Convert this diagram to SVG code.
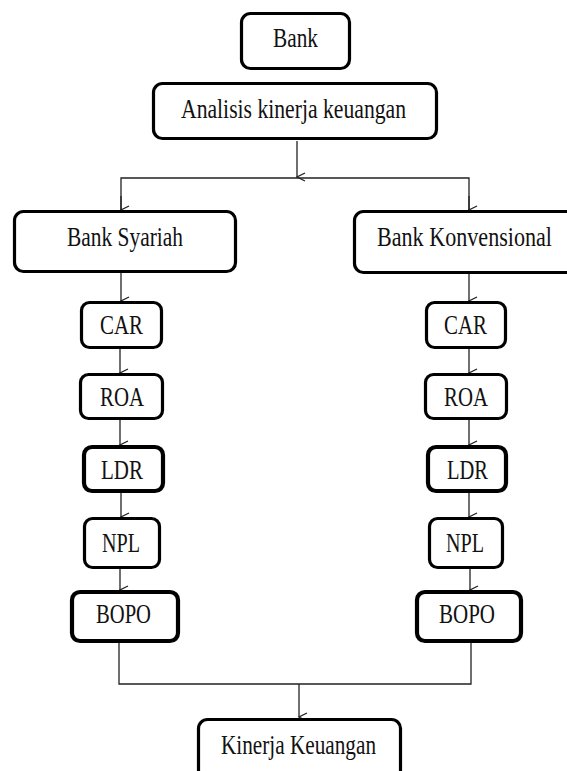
<svg xmlns="http://www.w3.org/2000/svg" width="567" height="771" viewBox="0 0 567 771">
<defs>
<style>
.box{fill:#fff;stroke:#000;stroke-width:3.2}
.thick{stroke-width:4.2}
.lbl{font-family:'Liberation Serif','Times New Roman',Times,serif;font-size:27px;fill:#111}
.ln{fill:none;stroke:#222;stroke-width:1.3}
</style>
<marker id="ah" markerWidth="10" markerHeight="10" refX="5" refY="9" orient="auto-start-reverse" markerUnits="userSpaceOnUse" viewBox="0 0 10 10">
<path d="M1,1 L5,9 L9,1" fill="none" stroke="#222" stroke-width="1.3"/>
</marker>
</defs>
<rect width="567" height="771" fill="#fff"/>
<g id="connectors">
<line class="ln" x1="297" y1="141" x2="297" y2="177" marker-end="url(#ah)"/>
<polyline class="ln" points="121,210 121,178 469,178 469,210"/>
<line class="ln" x1="121" y1="196" x2="121" y2="210" marker-end="url(#ah)"/>
<line class="ln" x1="469" y1="196" x2="469" y2="210" marker-end="url(#ah)"/>
<line class="ln" x1="121" y1="273" x2="121" y2="301" marker-end="url(#ah)"/>
<line class="ln" x1="469" y1="274" x2="469" y2="301" marker-end="url(#ah)"/>
<line class="ln" x1="120" y1="349" x2="120" y2="373" marker-end="url(#ah)"/>
<line class="ln" x1="469" y1="349" x2="469" y2="373" marker-end="url(#ah)"/>
<line class="ln" x1="120" y1="420" x2="120" y2="445" marker-end="url(#ah)"/>
<line class="ln" x1="469" y1="420" x2="469" y2="445" marker-end="url(#ah)"/>
<line class="ln" x1="121" y1="493" x2="121" y2="517" marker-end="url(#ah)"/>
<line class="ln" x1="469" y1="493" x2="469" y2="517" marker-end="url(#ah)"/>
<line class="ln" x1="120" y1="569" x2="120" y2="590" marker-end="url(#ah)"/>
<line class="ln" x1="470" y1="569" x2="470" y2="590" marker-end="url(#ah)"/>
<polyline class="ln" points="119,643 119,684 471,684 471,643"/>
<line class="ln" x1="299" y1="684" x2="299" y2="717" marker-end="url(#ah)"/>
</g>
<g id="bank">
<rect class="box" x="241.5" y="13.5" width="108" height="55" rx="9"/>
<text class="lbl" x="273" y="47" textLength="45" lengthAdjust="spacingAndGlyphs">Bank</text>
</g>
<g id="analisis">
<rect class="box" x="153.5" y="83.5" width="283" height="55" rx="9"/>
<text class="lbl" x="181" y="118" textLength="225" lengthAdjust="spacingAndGlyphs">Analisis kinerja keuangan</text>
</g>
<g id="syariah">
<rect class="box" x="14.5" y="211.5" width="221" height="60" rx="9"/>
<text class="lbl" x="67" y="246" textLength="116" lengthAdjust="spacingAndGlyphs">Bank Syariah</text>
</g>
<g id="konvensional">
<rect class="box" x="354.5" y="211.5" width="222" height="61" rx="9"/>
<text class="lbl" x="377" y="246" textLength="175" lengthAdjust="spacingAndGlyphs">Bank Konvensional</text>
</g>
<g id="car-s">
<rect class="box" x="81.5" y="302.5" width="80" height="45" rx="8"/>
<text class="lbl" x="100" y="334" textLength="43" lengthAdjust="spacingAndGlyphs">CAR</text>
</g>
<g id="roa-s">
<rect class="box" x="80.5" y="374.5" width="82" height="44" rx="8"/>
<text class="lbl" x="100" y="406" textLength="44" lengthAdjust="spacingAndGlyphs">ROA</text>
</g>
<g id="ldr-s">
<rect class="box thick" x="84" y="447" width="79" height="44" rx="8"/>
<text class="lbl" x="101" y="479" textLength="42" lengthAdjust="spacingAndGlyphs">LDR</text>
</g>
<g id="npl-s">
<rect class="box" x="84.5" y="518.5" width="75" height="49" rx="8"/>
<text class="lbl" x="102" y="552" textLength="38" lengthAdjust="spacingAndGlyphs">NPL</text>
</g>
<g id="bopo-s">
<rect class="box thick" x="72" y="592" width="106" height="49" rx="8"/>
<text class="lbl" x="96" y="623" textLength="55" lengthAdjust="spacingAndGlyphs">BOPO</text>
</g>
<g id="car-k">
<rect class="box" x="426.5" y="302.5" width="79" height="45" rx="8"/>
<text class="lbl" x="444" y="334" textLength="43" lengthAdjust="spacingAndGlyphs">CAR</text>
</g>
<g id="roa-k">
<rect class="box" x="425.5" y="374.5" width="81" height="44" rx="8"/>
<text class="lbl" x="444" y="406" textLength="44" lengthAdjust="spacingAndGlyphs">ROA</text>
</g>
<g id="ldr-k">
<rect class="box thick" x="428" y="447" width="78" height="44" rx="8"/>
<text class="lbl" x="447" y="479" textLength="41" lengthAdjust="spacingAndGlyphs">LDR</text>
</g>
<g id="npl-k">
<rect class="box" x="429.5" y="518.5" width="73" height="49" rx="8"/>
<text class="lbl" x="446" y="552" textLength="38" lengthAdjust="spacingAndGlyphs">NPL</text>
</g>
<g id="bopo-k">
<rect class="box thick" x="417" y="592" width="104" height="49" rx="8"/>
<text class="lbl" x="439" y="623" textLength="56" lengthAdjust="spacingAndGlyphs">BOPO</text>
</g>
<g id="kinerja">
<rect class="box" x="198.5" y="719.5" width="202" height="60" rx="9"/>
<text class="lbl" x="221" y="754" textLength="155" lengthAdjust="spacingAndGlyphs">Kinerja Keuangan</text>
</g>
</svg>
